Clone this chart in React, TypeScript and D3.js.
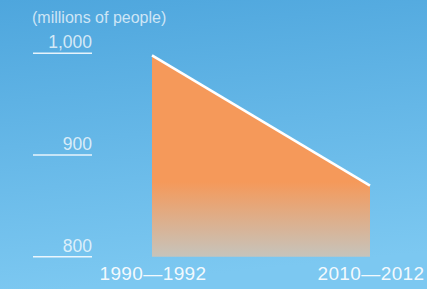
import React from 'react'
import * as d3 from 'd3'

// undernourished people in developing regions, millions
const periods = ['1990—1992', '2010—2012']
const undernourished = [998, 870]
const yTicks = [800, 900, 1000]
const unitLabel = '(millions of people)'

const W = 427
const H = 289
const FONT = '"Liberation Sans", Arial, sans-serif'

const App = () => {
  const x = d3.scalePoint<string>().domain(periods).range([152, 370])
  const y = d3.scaleLinear().domain([800, 1000]).range([256.7, 53.3])

  const data = periods.map((p, i) => ({ p, v: undernourished[i] }))

  const area = d3.area<{ p: string; v: number }>()
    .x(d => x(d.p) as number)
    .y0(y(800))
    .y1(d => y(d.v))

  const line = d3.line<{ p: string; v: number }>()
    .x(d => x(d.p) as number)
    .y(d => y(d.v))

  return (
    <svg width={W} height={H} style={{ position: 'absolute', left: 0, top: 0 }}>
      <defs>
        <linearGradient id="bg" x1="0" y1="0" x2="0.15" y2="1">
          <stop offset="0" stopColor="#4ea6dd" />
          <stop offset="1" stopColor="#7cc8f1" />
        </linearGradient>
        <linearGradient id="fill" gradientUnits="userSpaceOnUse" x1="0" y1={182} x2="0" y2={257}>
          <stop offset="0" stopColor="#f5995a" />
          <stop offset="1" stopColor="#c6c4bc" />
        </linearGradient>
      </defs>
      <rect width={W} height={H} fill="url(#bg)" />

      <text x={32} y={23} fontFamily={FONT} fontSize={16} fill="#fff" fillOpacity={0.72}>
        {unitLabel}
      </text>

      {yTicks.map(t => (
        <g key={t}>
          <line x1={33} x2={92} y1={y(t)} y2={y(t)} stroke="#fff" strokeWidth={1.4} strokeOpacity={0.85} />
          <text x={92} y={y(t) - 5} textAnchor="end" fontFamily={FONT} fontSize={17.5} fill="#fff" fillOpacity={0.75}>
            {d3.format(',')(t)}
          </text>
        </g>
      ))}

      <path d={area(data) || ''} fill="url(#fill)" />
      <path d={line(data) || ''} fill="none" stroke="#fff" strokeWidth={2.6} />

      {periods.map(p => (
        <text key={p} x={(x(p) as number) + 1} y={280} textAnchor="middle" fontFamily={FONT} fontSize={19}
          letterSpacing={0.4} fill="#fff" fillOpacity={0.92}>
          {p}
        </text>
      ))}
    </svg>
  )
}

export default App
